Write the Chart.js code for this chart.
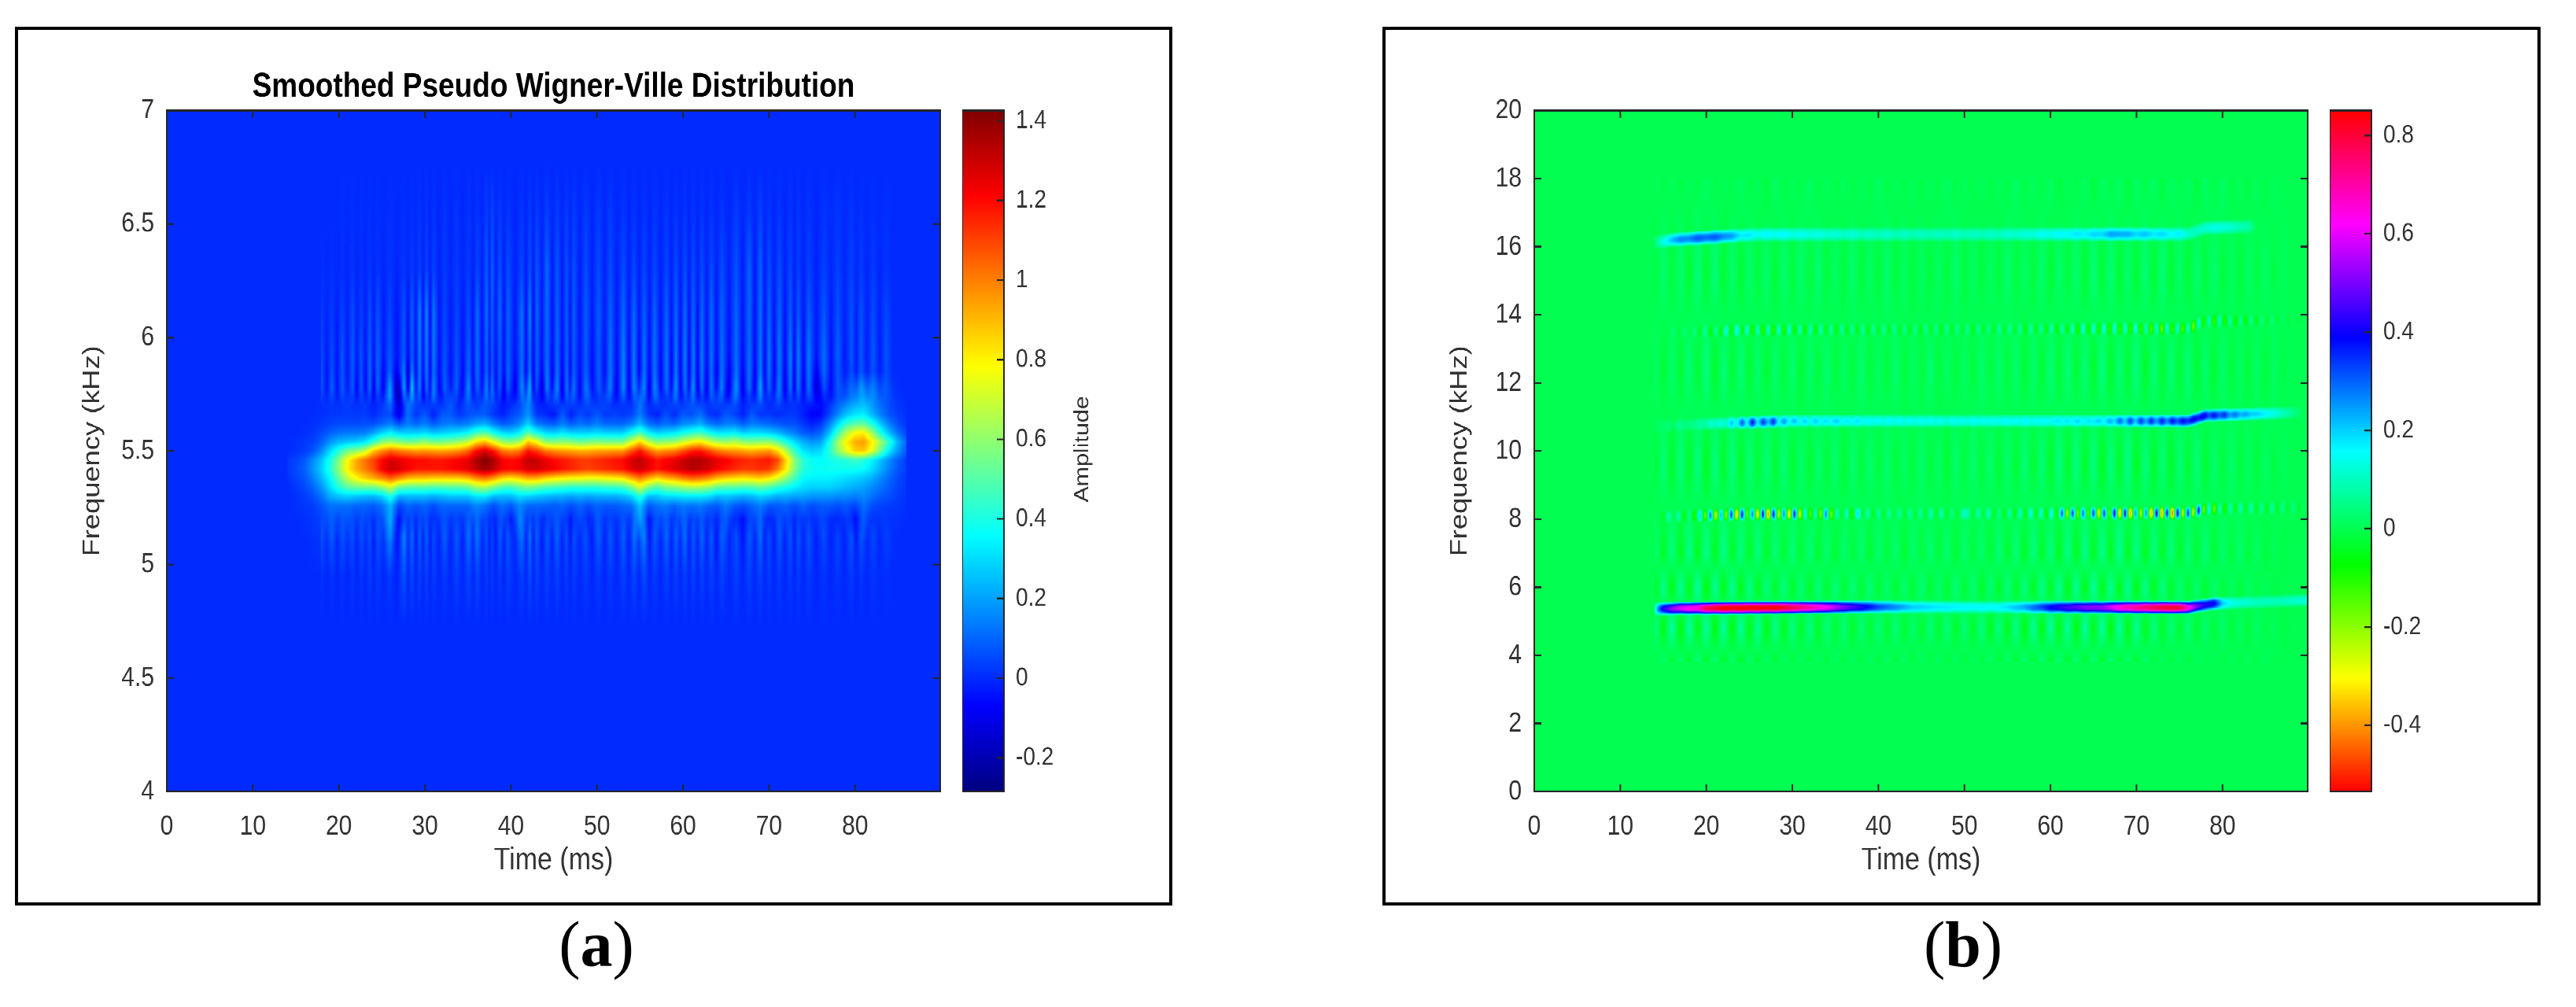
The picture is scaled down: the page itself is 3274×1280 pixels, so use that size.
<!DOCTYPE html>
<html>
<head>
<meta charset="utf-8">
<title>Wigner-Ville</title>
<script src="https://cdn.jsdelivr.net/npm/chart.js@4"></script>
<style>
  html, body { margin: 0; background: #fff; overflow: hidden; }
  body { width: 3274px; height: 1280px; position: relative; }
  .frame { position: absolute; top: 34px; height: 1117px; border: 4px solid #000; box-sizing: border-box; }
  #frameA { left: 19px; width: 1471px; }
  #frameB { left: 1757px; width: 1472px; }
  /* the source figure is stretched vertically, text included */
  #stage { position: absolute; left: 0; top: 0; width: 3274px; height: 1094px; transform: scaleY(1.17); transform-origin: 0 0; }
  #stage canvas { position: absolute; top: 60px; }
  .cap { position: absolute; top: 1153px; font: 82px/96px "Liberation Serif", serif; color: #000; transform: translateX(-50%); }
</style>
</head>
<body>
<div class="frame" id="frameA"></div>
<div class="frame" id="frameB"></div>
<div id="stage">
  <canvas id="mainA" width="1118" height="910" style="left:82px"></canvas>
  <canvas id="barA" width="260" height="910" style="left:1223px"></canvas>
  <canvas id="mainB" width="1118" height="910" style="left:1820px"></canvas>
  <canvas id="barB" width="260" height="910" style="left:2961px"></canvas>
</div>
<div class="cap" style="left:758px">(<b>a</b>)</div>
<div class="cap" style="left:2495px">(<b>b</b>)</div>
<script>
// ─── Ticks ─────────────────────────────────────────────
const xTicks = [0, 10, 20, 30, 40, 50, 60, 70, 80];
const yTicksA = [4, 4.5, 5, 5.5, 6, 6.5, 7];
const yTicksB = [0, 2, 4, 6, 8, 10, 12, 14, 16, 18, 20];
const barTicksA = [-0.2, 0, 0.2, 0.4, 0.6, 0.8, 1, 1.2, 1.4];
const barTicksB = [-0.4, -0.2, 0, 0.2, 0.4, 0.6, 0.8];
const barRangeA = [-0.285, 1.426];
const barRangeB = [-0.535, 0.851];

// ─── Panel (a): amplitude x100, read per kHz row, columns 14..86 ms ───
const timesA = [14,15,16,17,18,19,20,21,22,23, 24,25,26,27,28,29,30,31,32,33, 34,35,36,37,38,39,40,41,42,43, 44,45,46,47,48,49,50,51,52,53, 54,55,56,57,58,59,60,61,62,63, 64,65,66,67,68,69,70,71,72,73, 74,75,76,77,78,79,80,81,82,83, 84,85,86];
const freqsA = [5.85, 5.74, 5.66, 5.62, 5.58, 5.54, 5.5, 5.46, 5.42, 5.38, 5.34, 5.3, 5.26, 5.2, 5.1, 4.95];
const ampQuiet = [0,0,0,0,0,0,0,0,0,0, 0,0,0,0,0,0,0,0,0,0, 0,0,0,0,0,0,0,0,0,0, 0,0,0,0,0,0,0,0,0,0, 0,0,0,0,0,0,0,0,0,0, 0,0,0,0,0,0,0,0,0,0, 0,0,0,0,0,0,0,0,0,0, 0,0,0];
const amp574 = [0,0,0,0,0,2,0,3,-1,2, -3,0,14,-18,14,5,-5,8,-4,8, -4,8,-3,7,5,-5,-4,2,14,-4, -4,8,-3,8,-3,8,-3,7,-3,2, -2,12,-3,8,-3,8,-3,8,-3,1, 8,-3,8,-2,-2,8,-3,7,-2,1, -2,2,-6,-2,4,8,14,18,14,8, 4,1,0];
const amp566 = [0,0,0,0,1,2,2,3,2,3, 0,4,6,-12,12,2,8,-2,8,8, 2,6,8,8,2,-2,4,8,18,2, 0,-4,8,-2,6,2,8,2,4,2, 4,14,2,-2,6,0,8,6,12,2, 0,8,4,-2,8,2,2,0,2,2, -2,-8,-6,4,16,26,32,34,24,14, 7,3,1];
const amp562 = [0,0,0,1,2,4,5,5,5,6, 6,10,14,6,14,10,14,8,12,14, 12,14,20,22,14,8,10,16,28,14, 10,8,14,8,12,10,14,10,10,10, 14,24,12,8,12,10,16,18,22,14, 10,14,14,8,14,12,10,8,6,6, 2,-2,2,14,30,44,50,52,40,26, 14,6,2];
const amp558 = [0,0,1,2,5,9,12,13,13,14, 20,28,34,28,28,28,30,26,28,30, 32,36,46,50,38,30,28,34,50,38, 30,28,32,28,28,28,30,28,28,28, 38,48,34,28,30,32,38,42,46,38, 32,32,34,28,30,30,28,24,18,14, 8,6,10,24,46,66,78,80,62,40, 24,12,4];
const amp554 = [0,1,2,4,9,18,24,26,28,32, 44,58,62,58,54,56,60,55,56,58, 62,68,84,90,76,62,58,64,88,78, 60,58,60,58,54,56,58,56,56,56, 72,86,68,58,60,62,70,78,82,72, 64,62,66,60,58,60,60,52,40,30, 22,18,20,38,62,80,92,95,80,62, 42,22,10];
const amp550 = [0,1,3,7,16,30,42,55,60,68, 88,98,105,100,98,95,96,95,94,95, 98,105,120,128,118,102,98,102,118,112, 102,98,95,94,92,92,94,95,96,96, 108,118,105,95,98,100,108,116,118,110, 102,98,96,94,92,94,96,85,66,44, 32,28,30,42,60,74,86,88,74,52, 32,18,7];
const amp546 = [2,4,8,16,26,40,58,78,92,102, 110,120,128,125,122,120,120,118,118,120, 122,125,135,142,135,122,120,122,132,130, 125,120,118,115,112,112,114,116,118,120, 128,132,125,118,122,125,130,134,134,130, 125,122,118,116,114,116,118,110,85,58, 42,37,36,38,40,42,45,42,34,25, 16,8,3];
const amp542 = [2,5,9,18,28,42,60,80,92,100, 108,122,130,128,122,118,118,118,118,120, 122,125,132,138,132,122,120,122,128,128, 125,122,118,115,112,110,112,114,116,118, 125,130,124,118,122,126,130,134,132,128, 122,118,115,112,112,114,112,100,80,56, 42,38,37,38,38,38,38,36,30,22, 14,7,3];
const amp538 = [1,4,7,14,24,36,52,68,78,86, 92,98,105,98,90,88,88,86,86,86, 86,90,98,102,95,85,82,86,92,92, 86,82,80,78,78,76,76,78,80,82, 92,100,92,84,90,94,100,104,102,98, 90,86,84,82,84,86,82,72,60,46, 36,34,34,34,32,30,28,26,22,16, 10,5,2];
const amp534 = [0,2,5,10,18,30,42,50,54,54, 54,60,70,54,50,50,50,48,48,50, 50,52,62,64,56,48,46,52,56,52, 48,46,44,42,42,42,42,44,44,46, 56,72,56,48,56,58,62,64,64,60, 52,50,50,48,48,52,48,42,38,34, 30,28,28,28,26,24,22,20,16,12, 8,4,2];
const amp530 = [0,1,3,6,12,22,26,28,26,24, 24,28,40,22,24,24,24,22,24,26, 26,26,32,32,24,24,24,30,28,26, 24,22,22,20,22,20,22,22,22,24, 28,42,24,26,30,30,32,32,32,30, 24,26,24,22,24,28,26,22,22,20, 20,18,18,18,16,16,14,16,12,8, 6,3,1];
const amp526 = [0,1,2,3,7,12,12,12,10,10, 8,12,24,4,10,8,10,6,10,10, 10,10,16,12,6,12,8,16,10,10, 10,8,10,6,10,6,10,8,8,10, 12,26,8,12,14,10,14,12,14,10, 8,14,8,6,10,14,8,8,10,6, 10,6,8,8,6,8,4,12,6,4, 3,2,1];
const amp520 = [0,0,1,2,4,8,5,7,3,5, 1,6,20,-6,4,1,5,-1,5,3, 2,5,8,4,-1,6,-4,14,2,4, 0,6,4,-3,6,-2,6,2,2,4, 3,20,-4,6,6,2,8,2,6,2, 0,8,-2,-4,4,8,-3,4,4,0, 3,0,4,1,-2,3,-6,8,0,2, 1,1,0];
const amp510 = [0,0,0,1,2,3,1,3,0,2, -1,2,7,-3,2,0,2,-1,2,1, 0,2,3,1,-1,2,-1,5,0,1, -1,2,1,-1,2,-1,2,1,1,1, 0,6,-1,2,1,1,3,0,2,1, -1,3,-1,-1,1,3,-1,1,1,0, 1,0,1,0,0,1,-1,2,0,0, 1,0,0];
const ampRowsA = [ampQuiet, amp574, amp566, amp562, amp558, amp554, amp550, amp546, amp542, amp538, amp534, amp530, amp526, amp520, amp510, ampQuiet];

// thin streaks above and below the band: bright, dark, bright ... amplitude x100
const streakTimes = [17.97,18.6,19.2,19.8,20.4,21,21.6,22.1,22.6,23.1, 23.6,24.05,24.5,25.2,25.9,26.75,27.6,28.05,28.5,28.95, 29.4,29.8,30.2,30.6,31,31.65,32.3,33,33.7,34.4, 35.1,35.6,36.1,36.65,37.2,37.5,37.8,38.25,38.7,39.2, 39.65,40.5,41.3,41.75,42.2,42.6,43,43.6,44.2,44.8, 45.4,45.95,46.5,46.9,47.3,48,48.7,49.45,50.2,50.9, 51.55,52.3,53.1,53.7,54.3,54.9,55.5,56.1,56.7,57.4, 58.1,58.65,59.2,59.7,60.25,60.7,61.2,61.7,62.2,62.75, 63.3,63.9,64.5,65.35,66.2,66.95,67.7,68.35,69,69.5, 70,70.6,71.2,71.85,72.5,72.95,73.4,74,74.6,75.5, 76.4,77.2,78,78.8,79.6,80.15,80.7,81.4,82.1,82.85, 83.6,84.4];
const streakQuiet = [0,0,0,0,0,0,0,0,0,0, 0,0,0,0,0,0,0,0,0,0, 0,0,0,0,0,0,0,0,0,0, 0,0,0,0,0,0,0,0,0,0, 0,0,0,0,0,0,0,0,0,0, 0,0,0,0,0,0,0,0,0,0, 0,0,0,0,0,0,0,0,0,0, 0,0,0,0,0,0,0,0,0,0, 0,0,0,0,0,0,0,0,0,0, 0,0,0,0,0,0,0,0,0,0, 0,0,0,0,0,0,0,0,0,0, 0,0];
const streak655 = [0,0,0,0,1,0,1,0,1,0, 1,0,1,0,1,0,1,0,1,0, 2,-1,2,-1,2,-1,2,-1,2,-1, 2,-1,2,-1,4,-1,5,-1,3,-1, 2,-1,2,-1,3,-1,3,-1,4,-1, 3,-1,3,-1,3,-1,3,-1,3,-1, 3,-1,2,-1,2,-1,2,-1,2,-1, 2,-1,2,-1,2,-1,2,-1,2,-1, 2,-1,2,-1,3,-1,3,-1,4,-1, 2,-1,2,-1,2,-1,2,-1,2,-1, 2,0,2,0,2,0,1,0,1,0, 1,0];
const streak630 = [1,0,1,0,1,-1,2,-1,1,-1, 2,-1,2,-1,2,-1,2,-1,3,-1, 4,-2,5,-2,4,-2,3,-1,3,-1, 3,-2,5,-2,9,-3,10,-3,7,-2, 6,-2,5,-3,7,-3,8,-3,11,-3, 8,-3,7,-2,7,-3,6,-2,6,-2, 6,-2,6,-2,5,-2,5,-2,5,-2, 5,-2,6,-2,6,-2,6,-2,6,-2, 6,-2,6,-2,7,-3,10,-4,10,-3, 6,-2,6,-2,5,-2,4,-2,4,-2, 4,-1,4,-1,4,-1,3,-1,3,-1, 2,0];
const streak610 = [3,-1,3,-2,4,-2,6,-2,4,-3, 7,-3,7,-3,5,-4,7,-5,10,-4, 16,-6,18,-7,14,-4,5,-3,5,-3, 6,-4,12,-5,13,-4,10,-4,12,-5, 10,-4,13,-6,16,-7,11,-4,12,-5, 10,-4,9,-4,9,-4,9,-3,9,-3, 10,-4,11,-4,11,-4,10,-4,10,-4, 10,-4,11,-5,12,-5,11,-5,11,-4, 11,-4,10,-4,10,-4,11,-5,12,-5, 10,-4,10,-4,9,-4,9,-4,9,-3, 8,-3,7,-2,7,-2,7,-2,6,-2, 5,0];
const streak592 = [6,-3,6,-4,8,-4,9,-3,7,-4, 10,-5,10,-4,8,-5,9,-7,10,-5, 15,-6,16,-7,14,-5,7,-4,7,-5, 10,-5,13,-6,11,-5,9,-5,9,-5, 10,-5,12,-6,12,-7,10,-5,12,-6, 12,-6,10,-5,9,-5,9,-5,9,-5, 13,-6,15,-7,14,-7,13,-6,13,-6, 13,-7,14,-7,15,-7,14,-7,14,-6, 13,-6,12,-6,12,-6,12,-6,14,-7, 14,-7,14,-7,15,-7,15,-7,14,-5, 12,-5,10,-4,8,-3,8,-3,8,-3, 7,0];
const streak578 = [8,-5,8,-5,8,-5,8,-7,8,-8, 12,-8,12,-10,12,-14,20,-24,22,-8, 14,-8,14,-8,12,-7,10,-8,10,-7, 12,-7,12,-7,12,-7,10,-7,10,-8, 12,-9,14,-8,16,-10,10,-10,16,-10, 14,-10,12,-8,10,-6,10,-7,10,-7, 14,-8,16,-9,15,-8,13,-9,13,-9, 14,-9,14,-8,14,-9,14,-10,14,-10, 12,-12,14,-12,14,-10,14,-10,16,-8, 12,-9,12,-9,13,-10,14,-8,12,-14, 10,-6,6,-2,4,-1,8,-1,6,-1, 5,0];
const streak512 = [5,-2,5,-2,5,-2,5,-2,5,-2, 6,-2,6,-2,8,-4,16,-3,10,-3, 8,-3,8,-3,7,-3,7,-3,8,-3, 10,-3,10,-3,6,-3,6,-3,7,-3, 8,-3,8,-3,12,-3,8,-3,9,-3, 8,-3,7,-3,7,-3,7,-3,7,-3, 7,-3,8,-3,10,-3,12,-3,7,-3, 9,-3,8,-3,9,-3,8,-3,8,-3, 8,-3,8,-3,8,-3,8,-3,8,-3, 7,-3,7,-3,7,-3,7,-3,7,-3, 5,-2,5,-3,8,-2,6,-2,5,-1, 3,0];
const streak495 = [2,-1,2,-1,2,-1,2,-1,2,-1, 3,-1,3,-1,3,-2,7,-1,5,-1, 4,-1,4,-1,3,-1,3,-1,4,-1, 5,-1,5,-1,3,-1,3,-1,3,-1, 4,-1,4,-1,6,-1,4,-1,4,-1, 4,-1,3,-1,3,-1,3,-1,3,-1, 3,-1,4,-1,5,-1,6,-1,3,-1, 4,-1,4,-1,4,-1,4,-1,4,-1, 4,-1,4,-1,4,-1,4,-1,4,-1, 3,-1,3,-1,3,-1,3,-1,3,-1, 2,-1,2,-1,3,-1,2,-1,2,0, 1,0];
const upperFreqs = [6.78, 6.55, 6.3, 6.1, 5.92, 5.78, 5.7];
const upperRows = [streakQuiet, streak655, streak630, streak610, streak592, streak578, streakQuiet];
const lowerFreqs = [5.24, 5.12, 4.95, 4.72];
const lowerRows = [streakQuiet, streak512, streak495, streakQuiet];

// ─── Panel (b): harmonics, amplitude x100 ──────────────
const ridgeTimes = [13.77,14.38,14.99,15.6,16.21,16.82,17.43,18.04,18.65,19.26,19.87,20.48,21.09,21.7,22.31,22.92,23.53,24.14,24.75,25.36,25.97,26.58,27.19,27.8,28.41,29.02,29.63,30.24,30.85,31.46,32.07,32.68,33.29,33.9,34.51,35.12,35.73,36.34,36.95,37.56,38.17,38.78,39.39,40,40.61,41.22,41.83,42.44,43.05,43.66,44.27,44.88,45.49,46.1,46.71,47.32,47.93,48.54,49.15,49.76,50.37,50.98,51.59,52.2,52.81,53.42,54.03,54.64,55.25,55.86,56.47,57.08,57.69,58.3,58.91,59.52,60.13,60.74,61.35,61.96,62.57,63.18,63.79,64.4,65.01,65.62,66.23,66.84,67.45,68.06,68.67,69.28,69.89,70.5,71.11,71.72,72.33,72.94,73.55,74.16,74.77,75.38,75.99,76.6,77.21,77.82,78.43,79.04,79.65,80.26,80.87,81.48,82.09,82.7,83.31,83.92,84.53,85.14,85.75,86.36,86.97,87.58,88.19,88.8,89.41];

const line8Amp = [0,0,-3,8,-2,10,-8,6,-12,22, -22,32,-30,24,-25,38,-40,40,-20,30, -38,42,-45,42,-30,30,-38,40,-30,18, -18,14,-22,30,-22,12,-5,12,-14,20, -5,10,-6,8,-5,8,-4,8,-4,8, -5,8,-5,10,-5,10,-5,6,-4,8, 10,-5,10,-5,12,-6,6,-6,10,-8, 12,-8,14,-8,14,-10,16,-12,34,-28, 36,-22,30,-20,38,-35,36,-20,42,-42, 42,-42,28,-28,30,-42,45,-42,42,-50, 45,-30,38,-30,40,-22,16,-20,12,-12, 10,-8,10,-6,10,-6,8,-6,8,-5, 7,-4,6,-3,2];
const line11Amp = [0,2,1,4,2,5,3,6,4,7, 8,12,9,14,10,20,12,32,14,38, 16,34,20,36,14,24,15,22,14,20, 14,20,14,18,15,20,15,18,14,18, 14,16,14,16,13,16,13,16,13,16, 13,15,13,15,13,15,13,15,13,15, 13,15,13,15,13,15,14,16,14,16, 14,16,14,16,14,16,15,17,15,18, 15,18,15,18,16,20,16,22,18,30, 18,32,20,34,22,36,24,36,26,38, 30,38,34,40,36,42,32,38,30,34, 24,28,22,24,20,20,18,16,14,12, 10,8,5,3,0];
const line13Amp = [0,0,1,-1,3,-2,4,-3,5,-5, 7,-9,9,-8,14,-10,18,-10,14,-12, 12,-13,14,-14,14,-12,13,-11,12,-10, 10,-9,10,-8,9,-8,9,-7,8,-7, 8,-7,8,-6,8,-6,7,-6,7,-6, 7,-6,7,-6,7,-6,7,-6,7,-5, 7,-6,7,-6,7,-6,8,-6,8,-6, 8,-7,9,-7,9,-8,10,-9,10,-10, 12,-12,14,-12,16,-13,15,-14,16,-16, 15,-14,15,-15,14,-18,15,-20,15,-16, 15,-18,14,-20,14,-12,12,-14,12,-12, 10,-10,8,-8,7,-6,5,-4,4,-3, 3,-2,1,-1,0];

const line5Times = [14,14.5,15,17,19,20,22,26,28,30,32,34,36,38,40,42,44,46,50,54,56,58,60,62,64,66,68,70,72,74,75,76,77,78,79,80,81,84,87,90];
const line5Amp = [10,30,42,60,65,78,85,85,85,78,70,62,50,42,32,26,20,18,16,16,20,28,38,45,50,52,65,72,78,82,80,65,50,42,40,20,14,10,10,13];
const line16Times = [14,15,16,18,20,22,24,26,28,30,35,40,45,50,55,60,65,68,70,75,76,77,78,80,83,84];
const line16Amp = [5,12,22,28,30,28,18,15,16,14,12,10,10,10,11,15,18,24,20,16,12,10,12,13,8,0];

// where each harmonic sits: [ms], [kHz]
const line5PathT = [14, 17, 40, 76, 79, 90];
const line5PathF = [5.36, 5.38, 5.42, 5.4, 5.52, 5.62];
const line8PathT = [14, 25, 76, 78, 90];
const line8PathF = [8.06, 8.15, 8.18, 8.3, 8.35];
const line11PathT = [14, 20, 30, 76, 78, 90];
const line11PathF = [10.72, 10.8, 10.88, 10.88, 11.04, 11.14];
const line13PathT = [14, 25, 76, 78, 90];
const line13PathF = [13.45, 13.55, 13.6, 13.82, 13.86];
const line16PathT = [14, 16, 22, 26, 76, 78, 84];
const line16PathF = [16.12, 16.2, 16.3, 16.36, 16.37, 16.55, 16.6];

// faint streaks around the harmonics, amplitude x100, columns 14..88 ms
const grainTimes = [14,15,16,17,18,19,20,21,22,23, 24,25,26,27,28,29,30,31,32,33, 34,35,36,37,38,39,40,41,42,43, 44,45,46,47,48,49,50,51,52,53, 54,55,56,57,58,59,60,61,62,63, 64,65,66,67,68,69,70,71,72,73, 74,75,76,77,78,79,80,81,82,83, 84,85,86,87,88];
const grainFreqs = [18, 15.2, 12.4, 9.6, 7, 6, 4.8, 3.8];
const grain180 = [1,-1,1,-1,1,-1,2,-1,1,-1, 2,-1,1,-2,2,-1,1,-1,2,-1, 1,-1,1,-1,1,-1,2,-1,1,-1, 1,-1,1,-1,2,-1,1,-1,1,-1, 1,-1,2,-1,1,-1,2,-2,1,-1, 2,-2,2,-1,2,-2,2,-1,2,-2, 2,-1,2,-2,2,-1,2,-1,1,-1, 1,-1,1,0,0];
const grain152 = [-2,3,-2,3,-3,4,-3,4,-3,3, -3,3,-2,3,-3,3,-2,3,-2,3, -2,2,-2,3,-2,2,-2,3,-2,2, -2,2,-2,2,-2,3,-2,2,-2,2, -2,3,-2,2,-2,3,-3,3,-2,3, -3,4,-3,4,-3,3,-3,4,-3,4, -3,3,-3,3,-2,3,-2,2,-2,2, -1,2,-1,1,0];
const grain124 = [3,-3,3,-3,4,-3,5,-4,4,-3, 4,-3,3,-3,3,-2,3,-3,3,-2, 3,-2,2,-2,3,-2,2,-2,3,-2, 2,-2,3,-2,2,-2,2,-2,3,-2, 3,-2,3,-3,3,-3,4,-3,4,-3, 4,-4,5,-4,4,-3,5,-4,4,-3, 4,-3,4,-3,3,-3,3,-2,2,-2, 2,-2,2,-1,1];
const grain96 = [-3,4,-4,5,-4,5,-5,5,-4,5, -4,4,-3,4,-3,4,-3,3,-3,3, -2,3,-3,3,-2,3,-2,3,-2,2, -2,3,-2,2,-3,3,-2,3,-2,3, -3,3,-3,4,-3,4,-4,5,-4,5, -4,5,-5,5,-4,6,-5,5,-4,4, -4,4,-3,4,-3,3,-2,3,-2,2, -2,2,-1,1,0];
const grain70 = [4,-4,5,-5,6,-5,6,-5,6,-4, 5,-4,5,-4,4,-3,4,-3,4,-3, 3,-3,3,-2,3,-3,3,-2,3,-3, 3,-2,3,-2,3,-3,3,-2,3,-3, 4,-3,4,-4,5,-4,5,-5,6,-5, 6,-5,6,-5,7,-5,6,-5,5,-4, 5,-4,4,-3,4,-3,3,-2,3,-2, 2,-2,1,-1,0];
const grain60 = [-5,6,-6,7,-6,8,-7,7,-6,7, -6,6,-5,5,-4,5,-4,4,-4,4, -3,4,-3,4,-3,4,-3,3,-3,3, -3,4,-3,3,-3,4,-3,4,-4,4, -4,5,-4,5,-5,6,-5,7,-6,7, -6,8,-6,7,-6,7,-6,6,-5,5, -4,4,-3,3,-3,3,-2,2,-2,2, -1,1,-1,0,0];
const grain48 = [6,-6,8,-7,8,-6,8,-7,8,-7, 8,-6,7,-6,6,-5,5,-4,5,-4, 4,-3,4,-4,4,-3,4,-3,4,-3, 3,-3,4,-3,4,-4,4,-4,5,-5, 5,-5,6,-6,7,-6,8,-6,8,-7, 8,-6,8,-7,8,-6,7,-5,5,-4, 4,-3,4,-3,3,-2,3,-2,2,-2, 2,-1,1,-1,0];
const grain38 = [-2,3,-3,3,-4,4,-4,4,-4,3, -4,3,-3,3,-3,2,-2,2,-2,2, -2,2,-2,2,-2,2,-2,2,-2,2, -2,2,-2,2,-2,2,-2,2,-2,3, -3,3,-3,3,-3,4,-4,4,-4,4, -4,4,-4,4,-3,3,-3,3,-2,2, -2,2,-2,2,-1,1,-1,1,-1,1, -1,1,0,0,0];
const grainRows = [grain180, grain152, grain124, grain96, grain70, grain60, grain48, grain38];

// ─── Colormaps [position, r, g, b] ─────────────────────
const jetStops = [[0,0,0,128],[0.125,0,0,255],[0.375,0,255,255],[0.625,255,255,0],[0.875,255,0,0],[1,128,0,0]];
const hsvStops = [[0,255,0,0],[1/6,255,255,0],[1/3,0,255,0],[1/2,0,255,255],[2/3,0,0,255],[5/6,255,0,255],[1,255,0,0]];

const INK = '#333333';
const FONT = '"Liberation Sans", Arial, sans-serif';

// ─── Helpers ───────────────────────────────────────────
const lerpAt = (xs, ys, x) => {
  if (x <= xs[0]) return ys[0];
  for (let i = 1; i < xs.length; i++) {
    if (x <= xs[i]) return ys[i - 1] + (ys[i] - ys[i - 1]) * (x - xs[i - 1]) / (xs[i] - xs[i - 1]);
  }
  return ys[ys.length - 1];
};

const buildLut = (stops) => {
  const lut = new Uint8ClampedArray(1024 * 3);
  for (let i = 0; i < 1024; i++) {
    const t = i / 1023;
    for (let c = 0; c < 3; c++) {
      lut[i * 3 + c] = lerpAt(stops.map((s) => s[0]), stops.map((s) => s[c + 1]), t);
    }
  }
  return lut;
};

// a table of values on times x freqs, shaded like MATLAB's "shading interp"
const gridDataset = (times, freqs, rows) => ({
  grid: { times, freqs, rows },
  data: freqs.flatMap((f, j) => times.map((t, i) => ({ x: t, y: f, v: rows[j][i] }))),
  pointRadius: 0,
});

// one harmonic: amplitude along time, following a path in kHz
const ridgeDataset = (times, amp, pathT, pathF, halfWidth) => ({
  ridge: { times, amp, pathT, pathF, halfWidth },
  data: times.map((t, i) => ({ x: t, y: lerpAt(pathT, pathF, t), v: amp[i] })),
  pointRadius: 0,
});

const addGrid = (field, W, H, xs, ys, g) => {
  const nc = g.times.length, nr = g.freqs.length;
  const colAt = xs.map((x) => {
    if (x < g.times[0] || x > g.times[nc - 1]) return null;
    let i = 0;
    while (i < nc - 2 && x > g.times[i + 1]) i++;
    return [i, (x - g.times[i]) / (g.times[i + 1] - g.times[i])];
  });
  const lo = Math.min(g.freqs[0], g.freqs[nr - 1]), hi = Math.max(g.freqs[0], g.freqs[nr - 1]);
  ys.forEach((y, r) => {
    if (y < lo || y > hi) return;
    let j = 0;
    while (j < nr - 2 && (g.freqs[j + 1] - y) * (g.freqs[0] - g.freqs[nr - 1]) > 0) j++;
    const fy = (y - g.freqs[j]) / (g.freqs[j + 1] - g.freqs[j]);
    for (let c = 0; c < W; c++) {
      if (!colAt[c]) continue;
      const [i, fx] = colAt[c];
      const top = g.rows[j][i] * (1 - fx) + g.rows[j][i + 1] * fx;
      const bot = g.rows[j + 1][i] * (1 - fx) + g.rows[j + 1][i + 1] * fx;
      field[r * W + c] += top * (1 - fy) + bot * fy;
    }
  });
};

const addRidge = (field, W, H, xs, ys, rd) => {
  const first = rd.times[0], last = rd.times[rd.times.length - 1];
  xs.forEach((x, c) => {
    if (x < first || x > last) return;
    const v = lerpAt(rd.times, rd.amp, x);
    const mid = lerpAt(rd.pathT, rd.pathF, x);
    ys.forEach((y, r) => {
      const d = Math.abs(y - mid) / rd.halfWidth;
      if (d < 1) field[r * W + c] += v * (1 - d * d);
    });
  });
};

// paints the datasets through the chart's scales, then the MATLAB style box and ticks
const heatPlugin = (stops, range, extra) => {
  const lut = buildLut(stops);
  return {
    id: 'heat',
    beforeDatasetsDraw(chart) {
      const { left, top, width, height } = chart.chartArea;
      const { x, y } = chart.scales;
      const W = Math.round(width), H = Math.round(height);
      const xs = Array.from({ length: W }, (_, i) => x.getValueForPixel(left + (i + 0.5) * width / W));
      const ys = Array.from({ length: H }, (_, i) => y.getValueForPixel(top + (i + 0.5) * height / H));
      const field = new Float32Array(W * H);
      chart.data.datasets.forEach((ds) => {
        if (ds.grid) addGrid(field, W, H, xs, ys, ds.grid);
        if (ds.ridge) addRidge(field, W, H, xs, ys, ds.ridge);
      });
      const off = document.createElement('canvas');
      off.width = W; off.height = H;
      const octx = off.getContext('2d');
      const img = octx.createImageData(W, H);
      for (let p = 0; p < W * H; p++) {
        const t = (field[p] - range[0]) / (range[1] - range[0]);
        const k = Math.max(0, Math.min(1023, Math.round(t * 1023))) * 3;
        img.data[p * 4] = lut[k];
        img.data[p * 4 + 1] = lut[k + 1];
        img.data[p * 4 + 2] = lut[k + 2];
        img.data[p * 4 + 3] = 255;
      }
      octx.putImageData(img, 0, 0);
      chart.ctx.imageSmoothingEnabled = true;
      chart.ctx.drawImage(off, left, top, width, height);
    },
    afterDatasetsDraw(chart) {
      const { ctx, chartArea: a, scales } = chart;
      ctx.save();
      ctx.strokeStyle = '#262626';
      ctx.lineWidth = 2;
      ctx.strokeRect(a.left, a.top, a.width, a.height);
      ctx.beginPath();
      scales.y.ticks.forEach((tk) => {
        const py = scales.y.getPixelForValue(tk.value);
        ctx.moveTo(a.right - 9, py); ctx.lineTo(a.right, py);
        if (extra.box) { ctx.moveTo(a.left, py); ctx.lineTo(a.left + 9, py); }
      });
      if (extra.box) {
        scales.x.ticks.forEach((tk) => {
          const px = scales.x.getPixelForValue(tk.value);
          ctx.moveTo(px, a.top); ctx.lineTo(px, a.top + 8);
          ctx.moveTo(px, a.bottom); ctx.lineTo(px, a.bottom - 8);
        });
      }
      ctx.stroke();
      if (extra.sideLabel) {
        ctx.translate(extra.sideLabel.x, extra.sideLabel.y);
        ctx.rotate(-Math.PI / 2);
        ctx.fillStyle = INK;
        ctx.font = '26px ' + FONT;
        ctx.textAlign = 'center';
        ctx.textBaseline = 'middle';
        ctx.fillText(extra.sideLabel.text, 0, 0);
      }
      ctx.restore();
    },
  };
};

const tickList = (list) => (scale) => { scale.ticks = list.map((v) => ({ value: v })); };

// ─── Charts ────────────────────────────────────────────
const mainChart = (id, datasets, stops, range, yMin, yMax, yTicks, title) => new Chart(document.getElementById(id), {
  type: 'scatter',
  data: { datasets },
  plugins: [heatPlugin(stops, range, { box: true })],
  options: {
    responsive: false,
    animation: false,
    devicePixelRatio: 2,
    events: [],
    layout: { padding: { top: title ? 0 : 60, right: 5, left: 0, bottom: 0 } },
    plugins: {
      legend: { display: false },
      tooltip: { enabled: false },
      title: title ? {
        display: true, text: title, color: '#000', fullSize: false,
        font: { family: FONT, size: 37, weight: 'bold', lineHeight: 1.2 },
        padding: { top: 12.5, bottom: 3.1 },
      } : { display: false },
    },
    scales: {
      x: {
        type: 'linear', min: 0, max: 89.9,
        afterBuildTicks: tickList(xTicks),
        afterFit: (s) => { s.height = 110; },
        grid: { display: false, drawTicks: false }, border: { display: false },
        ticks: { color: INK, font: { family: FONT, size: 30 }, padding: 20, maxRotation: 0, autoSkip: false, callback: (v) => String(v) },
        title: { display: true, text: 'Time (ms)', color: INK, font: { family: FONT, size: 34 }, padding: { top: 0, bottom: 14.6 } },
      },
      y: {
        type: 'linear', min: yMin, max: yMax,
        afterBuildTicks: tickList(yTicks),
        afterFit: (s) => { s.width = 130; },
        grid: { display: false, drawTicks: false }, border: { display: false },
        ticks: { color: INK, font: { family: FONT, size: 30 }, padding: 16, autoSkip: false, callback: (v) => String(v) },
        title: { display: true, text: 'Frequency (kHz)', color: INK, font: { family: FONT, size: 31 }, padding: { top: 17, bottom: 0 } },
      },
    },
  },
});

const barChart = (id, stops, range, ticks, sideLabel) => new Chart(document.getElementById(id), {
  type: 'scatter',
  data: { datasets: [gridDataset([0, 1], [range[1], range[0]], [[range[1], range[1]], [range[0], range[0]]])] },
  plugins: [heatPlugin(stops, range, { box: false, sideLabel })],
  options: {
    responsive: false,
    animation: false,
    devicePixelRatio: 2,
    events: [],
    layout: { padding: { top: 60, right: 0, left: 0, bottom: 110 } },
    plugins: { legend: { display: false }, tooltip: { enabled: false } },
    scales: {
      x: { type: 'linear', min: 0, max: 1, display: false },
      y: {
        type: 'linear', position: 'right', min: range[0], max: range[1],
        afterBuildTicks: tickList(ticks),
        afterFit: (s) => { s.width = 207; },
        grid: { display: false, drawTicks: false }, border: { display: false },
        ticks: { color: INK, font: { family: FONT, size: 28 }, padding: 15, autoSkip: false, callback: (v) => String(v) },
      },
    },
  },
});

const hundredths = (rows) => rows.map((r) => r.map((v) => v / 100));
const percent = (r) => r.map((v) => v / 100);

document.addEventListener('DOMContentLoaded', () => {
  mainChart('mainA', [
    gridDataset(timesA, freqsA, hundredths(ampRowsA)),
    gridDataset(streakTimes, upperFreqs, hundredths(upperRows)),
    gridDataset(streakTimes, lowerFreqs, hundredths(lowerRows)),
  ], jetStops, barRangeA, 4, 7, yTicksA, 'Smoothed Pseudo Wigner-Ville Distribution');
  barChart('barA', jetStops, barRangeA, barTicksA, { text: 'Amplitude', x: 153, y: 428 });

  mainChart('mainB', [
    gridDataset(grainTimes, grainFreqs, hundredths(grainRows)),
    ridgeDataset(line5Times, percent(line5Amp), line5PathT, line5PathF, 0.2),
    ridgeDataset(ridgeTimes, percent(line8Amp), line8PathT, line8PathF, 0.2),
    ridgeDataset(ridgeTimes, percent(line11Amp), line11PathT, line11PathF, 0.2),
    ridgeDataset(ridgeTimes, percent(line13Amp), line13PathT, line13PathF, 0.2),
    ridgeDataset(line16Times, percent(line16Amp), line16PathT, line16PathF, 0.22),
  ], hsvStops, barRangeB, 0, 20, yTicksB, null);
  barChart('barB', hsvStops, barRangeB, barTicksB, null);
});
</script>
</body>
</html>
